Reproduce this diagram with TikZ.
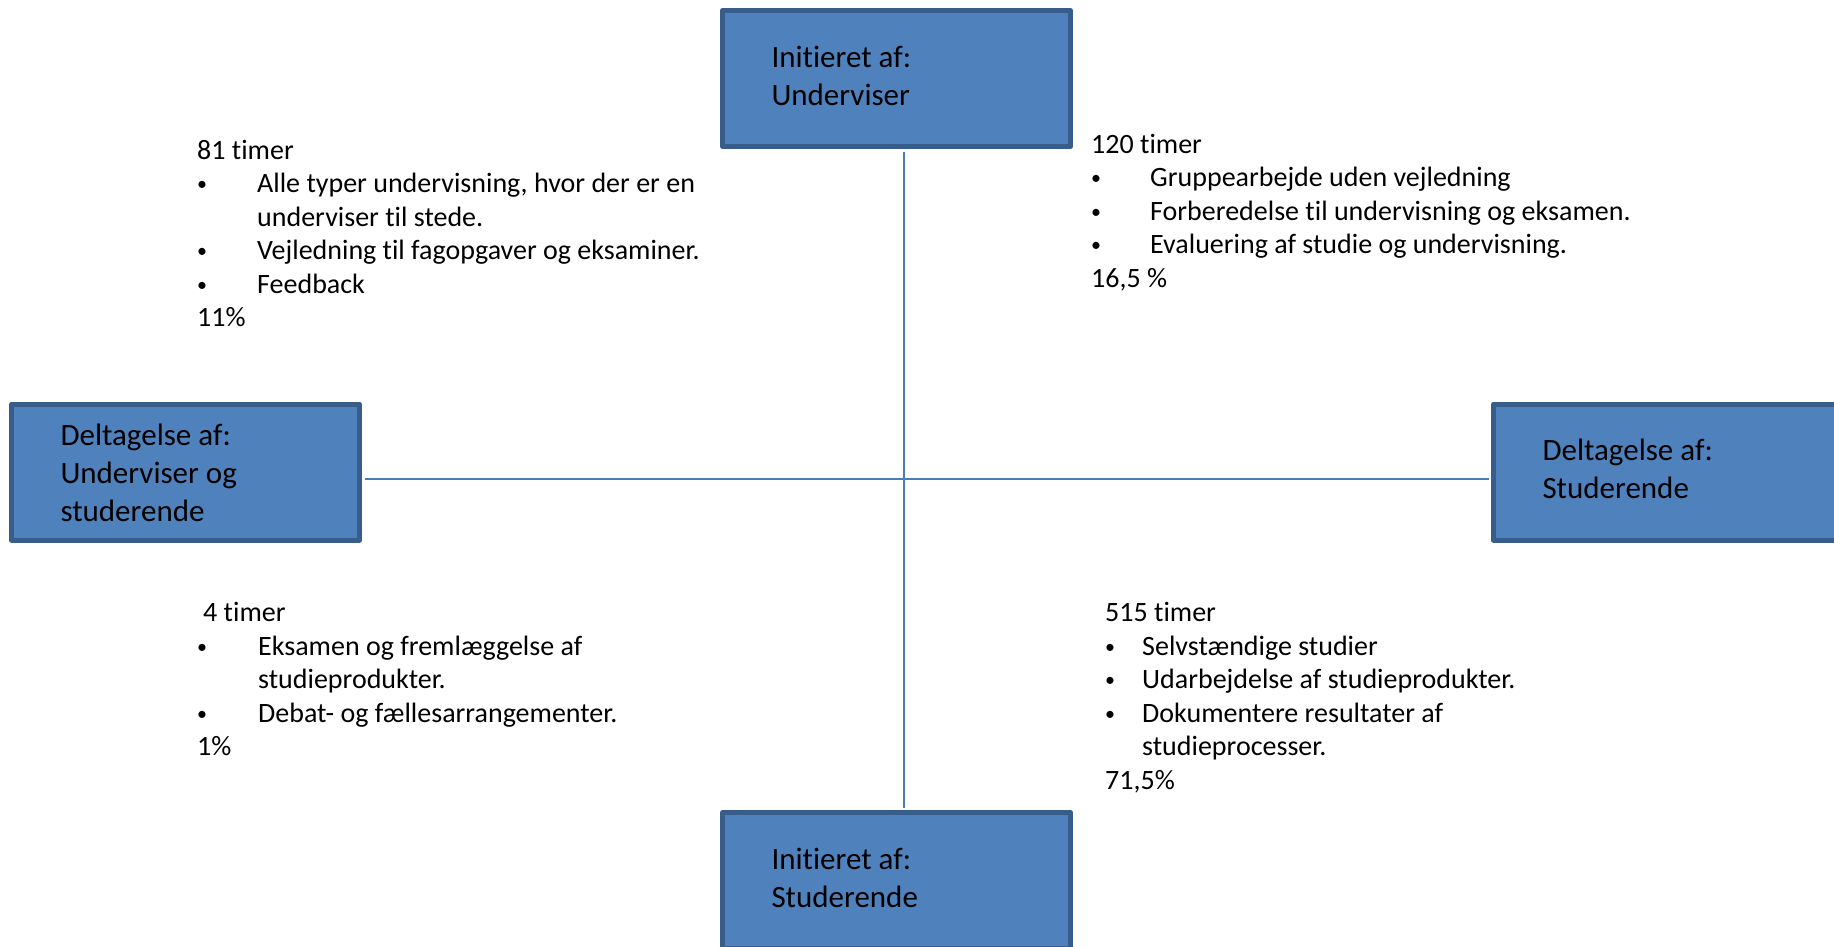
\documentclass[tikz,border=0pt]{standalone}
\usepackage{fontspec}
\setmainfont{Carlito}[Ligatures=NoCommon]
\usepackage{xcolor}
\usepackage{tikz}
\definecolor{boxFill}{HTML}{4F81BD}
\definecolor{boxLine}{HTML}{385D8A}
\definecolor{axisLine}{HTML}{4A7EBB}
\tikzset{
	role/.style = {draw = boxLine, fill = boxFill, line width = 5pt, line join = round, minimum width = 348pt, minimum height = 136pt, text width = 250pt, inner xsep = 49pt, inner ysep = 0pt, align = flush left, font = \fontsize{31}{38}\selectfont},
	hours/.style = {inner sep = 0pt, anchor = base west, font = \fontsize{28}{33.5}\selectfont},
	axis/.style = {draw = axisLine, line width = 2pt, shorten < = 2.5pt, shorten > = 2.5pt}
}
\newcommand{\roleNode}[5][0pt]{
	\node[role] (#2) at (#3, #4) {\raisebox{-#1}[\height][\depth]{\begin{tabular}{@{}l@{}}#5\end{tabular}}};
}
\newcommand{\hoursNode}[4]{
	\node[hours] (#1) at (#2, #3) {\begin{tabular}[t]{@{}l@{}}#4\end{tabular}};
}
\newcommand{\bulletRow}[2]{\makebox[#1][l]{\raisebox{2pt}{\fontsize{20}{20}\selectfont\textbullet}}#2}

\begin{document}
\begin{tikzpicture}[x = 1pt, y = -1pt]%
		\useasboundingbox (0, 0) rectangle (1834, 946);
		\clip (0, 0) rectangle (1834, 946);
		\coordinate (centre) at (904, 479);

		% roles
		\roleNode{teacher}{896.5}{78.5}{Initieret af:\\Underviser}
		\roleNode[3.5pt]{both}{185.5}{472}{Deltagelse af:\\Underviser og\\studerende}
		\roleNode{students}{1667.5}{472}{Deltagelse af:\\Studerende}
		\roleNode{student}{896.5}{880.5}{Initieret af:\\Studerende}

		% axes
		\draw[axis] (centre |- teacher.south) -- (centre |- student.north);
		\draw[axis] (both.east |- centre) -- (students.west |- centre);

		% quadrants
		\hoursNode{topLeft}{197}{159.3}{81 timer\\
			\bulletRow{60pt}{Alle typer undervisning, hvor der er en}\\
			\hspace*{60pt}underviser til stede.\\
			\bulletRow{60pt}{Vejledning til fagopgaver og eksaminer.}\\
			\bulletRow{60pt}{Feedback}\\
			11\%}
		\hoursNode{topRight}{1091}{153.3}{120 timer\\
			\bulletRow{59pt}{Gruppearbejde uden vejledning}\\
			\bulletRow{59pt}{Forberedelse til undervisning og eksamen.}\\
			\bulletRow{59pt}{Evaluering af studie og undervisning.}\\
			16,5 \%}
		\hoursNode{bottomLeft}{197}{621.7}{\hspace*{6pt}4 timer\\
			\bulletRow{61pt}{Eksamen og fremlæggelse af}\\
			\hspace*{61pt}studieprodukter.\\
			\bulletRow{61pt}{Debat- og fællesarrangementer.}\\
			1\%}
		\hoursNode{bottomRight}{1105}{621.7}{515 timer\\
			\bulletRow{37pt}{Selvstændige studier}\\
			\bulletRow{37pt}{Udarbejdelse af studieprodukter.}\\
			\bulletRow{37pt}{Dokumentere resultater af}\\
			\hspace*{37pt}studieprocesser.\\
			71,5\%}

	\end{tikzpicture}
\end{document}
